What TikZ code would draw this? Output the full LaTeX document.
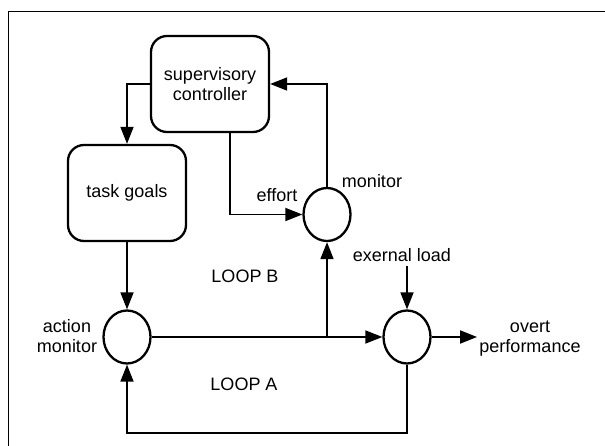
\documentclass[tikz,border=0pt]{standalone}
\usepackage{fontspec}
\setmainfont{Liberation Sans}
\usetikzlibrary{arrows.meta,shapes.geometric}
\begin{document}
\begin{tikzpicture}[x=1pt,y=-1pt,
  every node/.style={font=\fontsize{18}{20}\selectfont},
  box/.style={draw,line width=2.3pt,rounded corners=16pt,minimum width=118pt,minimum height=96pt,inner sep=0pt,align=center},
  sumnode/.style={draw,ellipse,line width=2.3pt,minimum width=47pt,minimum height=53pt,inner sep=0pt},
  txt/.style={inner sep=0pt,align=center},
  conn/.style={line width=1.8pt,-{Triangle[length=17pt,width=13pt]}},
  plain/.style={line width=1.8pt}]
\useasboundingbox (0,0) rectangle (605,446);
\draw[line width=1.2pt] (8.5,447) -- (8.5,11.5) -- (606,11.5);
% main blocks
\node[box] (sup) at (210,84) {supervisory\\controller};
\node[box] (task) at (127,193) {task goals};
\node[sumnode] (am) at (127,337) {};
\node[sumnode] (mon) at (327,214.5) {};
\node[sumnode] (sum) at (407,337) {};
% free ends
\coordinate (load) at (407,266.5);
\coordinate (out) at (477,337);
\coordinate (fbr) at (407,433);
\coordinate (fbl) at (127,433);
\coordinate (j) at (mon.south |- am.east);
% connectors
\draw[conn] (sup.west) -| (task.north);
\draw[conn] (task.south) -- (am.north);
\draw[conn] ([xshift=20pt]sup.south) |- (mon.west);
\draw[conn] (mon.north) |- (sup.east);
\draw[conn] (am.east) -- (sum.west);
\draw[conn] (j) -- (mon.south);
\draw[conn] (load) -- (sum.north);
\draw[conn] (sum.east) -- (out);
\draw[conn] (sum.south) -- (fbr) -- (fbl) -- (am.south);
% labels
\node[txt] (effort) at (277,195) {effort};
\node[txt] (monl) at (372,181) {monitor};
\node[txt] (loadl) at (402,255) {exernal load};
\node[txt] (loopb) at (245,276) {LOOP B};
\node[txt] (loopa) at (244,384) {LOOP A};
\node[txt] (aml) at (67,336) {action\\monitor};
\node[txt] (outl) at (530,339) {overt\\performance};
\end{tikzpicture}
\end{document}
